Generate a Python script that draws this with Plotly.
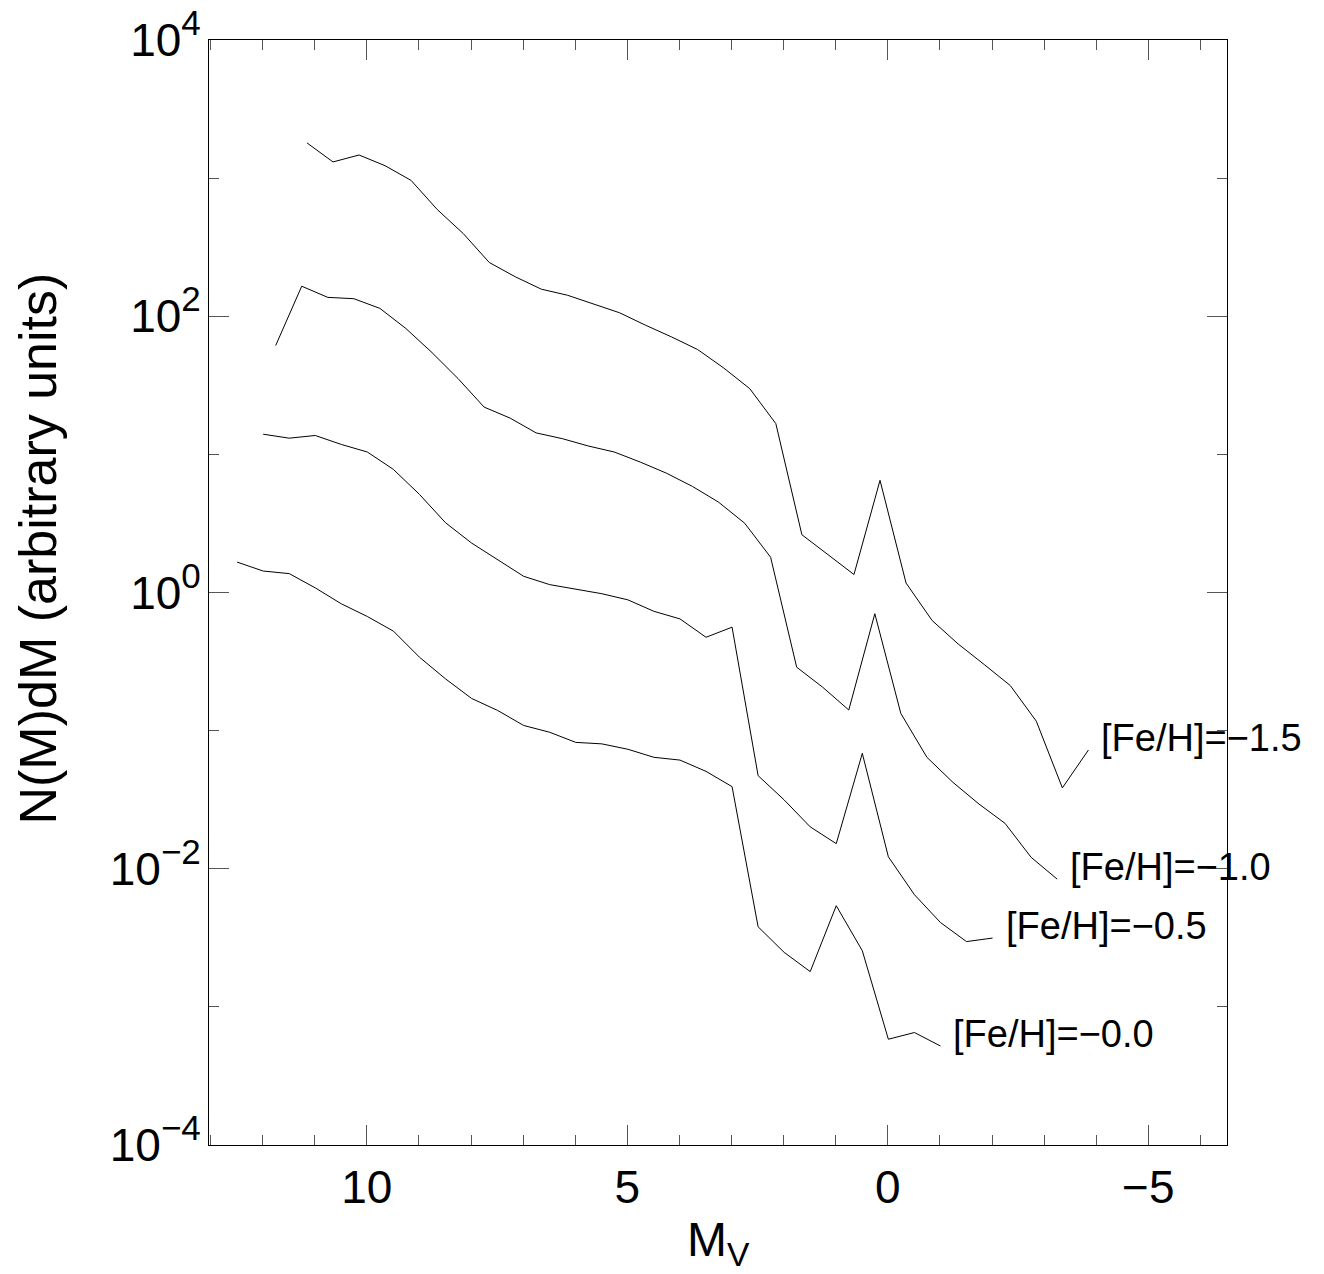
import math
import plotly.graph_objects as go

# ---- data ----
mv_m15 = [11.15, 10.65, 10.15, 9.65, 9.15, 8.65, 8.15, 7.65, 7.15, 6.65, 6.15, 5.65, 5.15, 4.65,
          4.15, 3.65, 3.15, 2.65, 2.15, 1.65, 1.15, 0.65, 0.15, -0.35, -0.85, -1.35, -1.85,
          -2.35, -2.85, -3.35, -3.85]
n_m15 = [1800, 1310, 1470, 1230, 962, 593, 397, 245, 193, 157, 142, 122, 106, 86.1,
         70.8, 57.4, 42.2, 29.9, 16.7, 2.62, 1.88, 1.35, 6.49, 1.17, 0.627, 0.424, 0.301,
         0.212, 0.117, 0.0385, 0.0724]

mv_m10 = [11.75, 11.25, 10.75, 10.25, 9.75, 9.25, 8.75, 8.25, 7.75, 7.25, 6.75, 6.25, 5.75, 5.25,
          4.75, 4.25, 3.75, 3.25, 2.75, 2.25, 1.75, 1.25, 0.75, 0.25, -0.25, -0.75, -1.25,
          -1.75, -2.25, -2.75, -3.25]
n_m10 = [61.4, 165, 137, 134, 114, 81.5, 54.6, 35.4, 22.0, 18.3, 14.3, 13.0, 11.5, 10.4,
         8.79, 7.31, 5.86, 4.51, 3.18, 1.80, 0.288, 0.206, 0.141, 0.702, 0.133, 0.0641, 0.0422,
         0.0294, 0.0213, 0.0121, 0.00841]

mv_m05 = [11.99, 11.49, 10.99, 10.49, 9.99, 9.49, 8.99, 8.49, 7.99, 7.49, 6.99, 6.49, 5.99, 5.49,
          4.99, 4.49, 3.99, 3.49, 2.99, 2.49, 1.99, 1.49, 0.99, 0.49, -0.01, -0.51, -1.01,
          -1.51, -2.01]
n_m05 = [14.0, 13.1, 13.7, 11.8, 10.4, 7.78, 5.13, 3.20, 2.28, 1.73, 1.31, 1.14, 1.06, 0.980,
         0.885, 0.731, 0.644, 0.474, 0.561, 0.0472, 0.0315, 0.0201, 0.0152, 0.0685, 0.0122,
         0.00649, 0.00408, 0.00297, 0.00315]

mv_m00 = [12.49, 11.99, 11.49, 10.99, 10.49, 9.99, 9.49, 8.99, 8.49, 7.99, 7.49, 6.99, 6.49, 5.99,
          5.49, 4.99, 4.49, 3.99, 3.49, 2.99, 2.49, 1.99, 1.49, 0.99, 0.49, -0.01, -0.51, -1.01]
n_m00 = [1.66, 1.43, 1.37, 1.08, 0.828, 0.670, 0.525, 0.340, 0.237, 0.171, 0.140, 0.109, 0.0973,
         0.0822, 0.0802, 0.0733, 0.0641, 0.0612, 0.0507, 0.0393, 0.00380, 0.00248, 0.00180,
         0.00540, 0.00255, 0.000583, 0.000652, 0.000521]

series_labels = ["[Fe/H]=\u22121.5", "[Fe/H]=\u22121.0", "[Fe/H]=\u22120.5", "[Fe/H]=\u22120.0"]
x_tickvals = [10, 5, 0, -5]
x_ticktext = ["10", "5", "0", "\u22125"]
y_tickvals = [1e-4, 1e-2, 1, 1e2, 1e4]
y_exponents = ["\u22124", "\u22122", "0", "2", "4"]
y_minor = [1e-3, 1e-1, 1e1, 1e3]
x_title = "M<sub>V</sub>"
y_title = "N(M)dM (arbitrary units)"

FONT = "Liberation Sans, Arial, Helvetica, sans-serif"

y_ticktext = ["10<span style='font-size:50px'><sup>%s</sup></span>" % e for e in y_exponents]

fig = go.Figure()
series = [(mv_m15, n_m15), (mv_m10, n_m10), (mv_m05, n_m05), (mv_m00, n_m00)]
for (xs, ys), lab in zip(series, series_labels):
    fig.add_trace(go.Scatter(x=xs, y=ys, mode="lines",
                             line=dict(color="black", width=1), showlegend=False, name=lab))
    # label placed just right of the curve's last point (log axis -> log10 position)
    fig.add_annotation(x=xs[-1], y=math.log10(ys[-1]), xref="x", yref="y", text=lab,
                       showarrow=False, xanchor="left", yanchor="middle",
                       xshift=11, yshift=12,
                       font=dict(family=FONT, size=38, color="black"))

fig.add_annotation(x=0.5, y=0, xref="paper", yref="paper", text=x_title,
                   showarrow=False, xanchor="center", yanchor="top", yshift=-66,
                   font=dict(family=FONT, size=48, color="black"))
fig.add_annotation(x=0, y=0.5, xref="paper", yref="paper", text=y_title,
                   showarrow=False, xanchor="center", yanchor="middle", textangle=-90,
                   xshift=-172, yshift=44,
                   font=dict(family=FONT, size=52, color="black"))

fig.update_layout(
    width=1324, height=1274,
    margin=dict(l=201, r=105, t=32, b=137, autoexpand=False),
    paper_bgcolor="white", plot_bgcolor="white",
    font=dict(family=FONT, color="black"),
)
fig.update_xaxes(range=[13.03, -6.51], showgrid=False, zeroline=False, automargin=False,
                 showline=True, linecolor="black", linewidth=1, mirror="ticks",
                 ticks="inside", ticklen=20, tickwidth=1, tickcolor="#555",
                 tickmode="array", tickvals=x_tickvals, ticktext=x_ticktext,
                 tickfont=dict(family=FONT, size=46, color="black"),
                 ticklabelstandoff=2, ticklabeloverflow="allow",
                 minor=dict(ticks="inside", ticklen=10, tickwidth=1, tickcolor="#555",
                            tickmode="linear", tick0=0, dtick=1, showgrid=False))
fig.update_yaxes(type="log", range=[-4, 4], showgrid=False, zeroline=False, automargin=False,
                 showline=True, linecolor="black", linewidth=1, mirror="ticks",
                 ticks="inside", ticklen=20, tickwidth=1, tickcolor="#555",
                 tickmode="array", tickvals=y_tickvals, ticktext=y_ticktext,
                 tickfont=dict(family=FONT, size=46, color="black"),
                 ticklabelstandoff=-2, ticklabeloverflow="allow",
                 minor=dict(ticks="inside", ticklen=10, tickwidth=1, tickcolor="#555",
                            tickmode="array", tickvals=y_minor, showgrid=False))

fig.write_html("out.html")
